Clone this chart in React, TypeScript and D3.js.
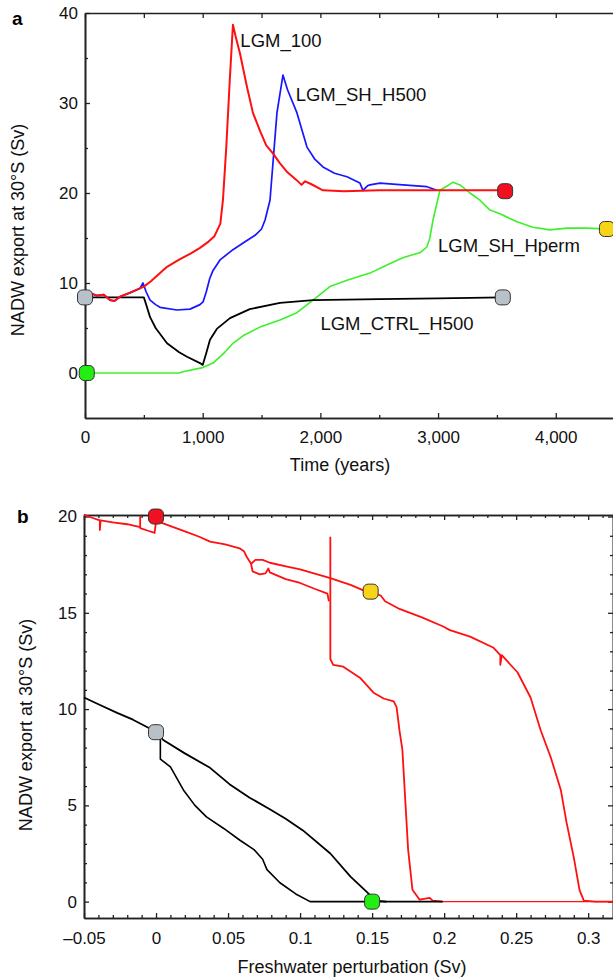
import React, { useEffect, useRef } from "react";
import * as d3 from "d3";

// ---- panel a: NADW export vs time (years, Sv) ----
const ctrlH500: [number, number][] = [
  [0, 8.4], [500, 8.4], [520, 7.6], [553, 6.2], [600, 5.0], [697, 3.3], [800, 2.3], [867, 1.8],
  [977, 1.1], [1000, 0.9], [1030, 2.2], [1062, 3.7], [1120, 4.9], [1232, 6.1], [1400, 7.1],
  [1657, 7.8], [1937, 8.1], [2500, 8.2], [3000, 8.3], [3550, 8.4],
];
const lgm100: [number, number][] = [
  [0, 8.7], [40, 8.9], [100, 8.6], [160, 8.7], [212, 8.1], [250, 8.0], [300, 8.5], [380, 8.9],
  [467, 9.4], [500, 9.6], [560, 10.2], [697, 11.8], [800, 12.6], [900, 13.3], [977, 13.9],
  [1050, 14.6], [1100, 15.2], [1150, 16.6], [1172, 19.2], [1200, 25], [1230, 32.5], [1257, 38.7],
  [1280, 37.4], [1317, 35.5], [1376, 31.8], [1427, 28.9], [1487, 26.9], [1540, 25.3], [1597, 24.4],
  [1657, 23.3], [1720, 22.3], [1801, 21.4], [1840, 20.9], [1870, 21.3], [1920, 21.0], [2022, 20.3],
  [2200, 20.2], [2500, 20.3], [3000, 20.3], [3570, 20.3],
];
const shH500: [number, number][] = [
  [0, 8.7], [40, 8.9], [100, 8.6], [160, 8.7], [212, 8.1], [250, 8.0], [300, 8.5], [380, 8.9],
  [467, 9.4], [493, 10.0], [520, 9.0], [553, 8.1],
  [600, 7.6], [637, 7.3], [780, 7.0], [892, 7.1], [977, 7.6], [1003, 7.9], [1030, 9.0], [1060, 10.5],
  [1088, 11.4], [1150, 12.6], [1257, 13.7], [1350, 14.5], [1445, 15.3], [1500, 16.0], [1530, 17.0],
  [1572, 19.2], [1631, 28.9], [1682, 33.1], [1720, 31.5], [1801, 28.9], [1886, 25.1], [1950, 23.8],
  [2022, 22.9], [2120, 22.2], [2226, 21.8], [2336, 21.1], [2362, 20.3], [2400, 20.8], [2421, 20.9],
  [2506, 21.1], [2700, 20.9], [2905, 20.7], [2990, 20.3],
];
const shHperm: [number, number][] = [
  [0, 0], [800, 0], [850, 0.2], [1000, 0.6], [1088, 1.1], [1180, 2.2], [1257, 3.3], [1350, 4.2],
  [1487, 5.1], [1657, 5.9], [1801, 6.7], [1937, 8.1], [2081, 9.6], [2226, 10.3], [2421, 11.1],
  [2566, 12.0], [2700, 12.8], [2850, 13.4], [2905, 14.0], [2930, 15.0], [2957, 17.0], [3016, 20.3],
  [3080, 20.8], [3127, 21.2], [3186, 20.9], [3271, 20.0], [3356, 19.2], [3441, 18.1], [3526, 17.7],
  [3670, 16.8], [3806, 16.2], [3951, 15.9], [4095, 16.1], [4265, 16.1], [4435, 16.0],
];
const markersA = [
  { t: 0, v: 8.4, fill: "#b8c0c8" },
  { t: 15, v: 0, fill: "#22ee11" },
  { t: 3570, v: 20.2, fill: "#f01020" },
  { t: 3550, v: 8.4, fill: "#b8c0c8" },
  { t: 4435, v: 16.0, fill: "#f7d417" },
];
const labelsA = [
  { text: "LGM_100", t: 1320, v: 36.2 },
  { text: "LGM_SH_H500", t: 1790, v: 30.2 },
  { text: "LGM_SH_Hperm", t: 3000, v: 13.5 },
  { text: "LGM_CTRL_H500", t: 2000, v: 4.8 },
];
const xTicksA = [0, 1000, 2000, 3000, 4000];
const xMinorA = [500, 1500, 2500, 3500, 4500];
const yTicksA = [0, 10, 20, 30, 40];
const yMinorA = [5, 15, 25, 35];

// ---- panel b: NADW export vs freshwater perturbation (Sv) ----
const blackUpperB: [number, number][] = [
  [-0.05, 10.6], [-0.04, 10.25], [-0.027, 9.8], [-0.016, 9.45], [-0.002, 8.9], [0.005, 8.4],
  [0.02, 7.7], [0.0375, 6.95], [0.051, 6.1], [0.065, 5.4], [0.079, 4.8], [0.09, 4.3], [0.102, 3.7],
  [0.121, 2.5], [0.135, 1.3], [0.147, 0.45], [0.152, 0.05], [0.16, 0], [0.199, 0],
];
const blackLowerB: [number, number][] = [
  [0.003, 8.8], [0.003, 7.4], [0.01, 7.0], [0.019, 5.8], [0.027, 5.0], [0.035, 4.4], [0.047, 3.8],
  [0.058, 3.2], [0.068, 2.7], [0.074, 2.2], [0.077, 1.66], [0.086, 0.98], [0.097, 0.4], [0.107, 0],
  [0.16, 0],
];
const redUpperB: [number, number][] = [
  [-0.05, 20.1], [-0.045, 19.95], [-0.039, 19.8], [-0.039, 19.3], [-0.0385, 19.8], [-0.03, 19.7],
  [-0.02, 19.6], [-0.011, 19.45], [-0.011, 20.0], [-0.011, 19.4], [-0.005, 19.25], [-0.001, 19.15],
  [0, 19.75], [0.003, 19.7], [0.012, 19.45], [0.021, 19.2], [0.03, 18.95], [0.0375, 18.7],
  [0.048, 18.55], [0.058, 18.35], [0.061, 18.2], [0.063, 17.9], [0.066, 17.55], [0.069, 17.75],
  [0.074, 17.75], [0.079, 17.6], [0.091, 17.4], [0.1, 17.25], [0.112, 17.0], [0.121, 16.8], [0.135, 16.45],
  [0.146, 16.1], [0.152, 16.0], [0.156, 15.9], [0.159, 15.6], [0.169, 15.2], [0.185, 14.75],
  [0.199, 14.3], [0.204, 14.1], [0.218, 13.76], [0.234, 13.2], [0.239, 12.8], [0.239, 12.3],
  [0.24, 12.8], [0.251, 11.9], [0.26, 10.6], [0.267, 8.9], [0.274, 7.5], [0.281, 5.8],
  [0.285, 4.1], [0.29, 2.3], [0.294, 0.6], [0.297, 0.05], [0.305, 0], [0.32, 0],
];
const redLoopB: [number, number][] = [
  [0.066, 17.55], [0.067, 17.15], [0.072, 17.0], [0.076, 17.05], [0.078, 17.3], [0.079, 17.1],
  [0.09, 16.75], [0.1, 16.55], [0.11, 16.25], [0.119, 16.0], [0.12, 15.6],
];
const redMidB: [number, number][] = [
  [0.121, 18.95], [0.121, 12.6], [0.123, 12.3], [0.13, 12.2], [0.136, 11.9], [0.142, 11.6],
  [0.151, 10.85], [0.158, 10.55], [0.165, 10.4], [0.167, 10.1], [0.169, 8.9], [0.171, 7.9],
  [0.173, 5.3], [0.175, 2.7], [0.178, 0.62], [0.183, 0.1], [0.19, 0.2], [0.192, 0.05], [0.199, 0],
];
const redZeroB: [number, number][] = [[0.199, 0], [0.32, 0]];
const markersB = [
  { f: 0, v: 20, fill: "#f01020" },
  { f: 0, v: 8.8, fill: "#b8c0c8" },
  { f: 0.149, v: 16.1, fill: "#f7d417" },
  { f: 0.15, v: 0, fill: "#22ee11" },
];
const xTicksB = [-0.05, 0, 0.05, 0.1, 0.15, 0.2, 0.25, 0.3];
const xTickLabelsB = ["\u20130.05", "0", "0.05", "0.1", "0.15", "0.2", "0.25", "0.3"];
const yTicksB = [0, 5, 10, 15, 20];

const FONT = "'Liberation Sans', Arial, Helvetica, sans-serif";
const RED = "#ff1010";
const BLUE = "#1616ff";
const GREEN = "#3cf02a";

const xA = d3.scaleLinear().domain([0, 4500]).range([85, 614.6]);
const yA = d3.scaleLinear().domain([-5, 40]).range([418, 13]);
const xB = d3.scaleLinear().domain([-0.05, 0.32]).range([84, 617]);
const yB = d3.scaleLinear().domain([-0.85, 20.08]).range([918, 515]);

const lineA = d3.line<[number, number]>().x((d) => xA(d[0])).y((d) => yA(d[1]));
const lineB = d3.line<[number, number]>().x((d) => xB(d[0])).y((d) => yB(d[1]));

function styleAxis(sel: d3.Selection<SVGGElement, unknown, null, undefined>) {
  sel.attr("font-family", FONT).attr("font-size", 17);
  sel.selectAll("path.domain").attr("stroke", "#222").attr("stroke-width", 1.6);
  sel.selectAll(".tick line").attr("stroke", "#222").attr("stroke-width", 1.3);
  sel.selectAll(".tick text").attr("fill", "#111");
}

export default function App() {
  const axesRef = useRef<SVGGElement>(null);

  useEffect(() => {
    const root = d3.select(axesRef.current!);
    root.selectAll("*").remove();
    const add = (tx: number, ty: number, axis: d3.Axis<number>) => {
      const g = root.append("g").attr("transform", `translate(${tx},${ty})`) as any;
      g.call(axis);
      styleAxis(g);
    };
    const none = () => "";
    // panel a
    add(0, 418, d3.axisBottom<number>(xA).tickValues(xMinorA).tickSize(-3).tickSizeOuter(0).tickFormat(none));
    add(0, 418, d3.axisBottom<number>(xA).tickValues(xTicksA).tickSize(-5).tickSizeOuter(0).tickPadding(13).tickFormat(d3.format(",")));
    add(0, 13, d3.axisTop<number>(xA).tickValues(xMinorA.concat(xTicksA)).tickSize(-5).tickSizeOuter(0).tickFormat(none));
    add(85, 0, d3.axisLeft<number>(yA).tickValues(yMinorA).tickSize(-3).tickSizeOuter(0).tickFormat(none));
    add(85, 0, d3.axisLeft<number>(yA).tickValues(yTicksA).tickSize(-5).tickSizeOuter(0).tickPadding(7).tickFormat(d3.format("d")));
    // panel b
    const minorB = d3.range(-5, 33).map((i) => i / 100).filter((v) => Math.round(v * 100) % 5 !== 0);
    const minorYB = d3.range(0, 21).filter((v) => v % 5 !== 0);
    add(0, 918, d3.axisBottom<number>(xB).tickValues(minorB).tickSize(-3).tickSizeOuter(0).tickFormat(none));
    add(0, 918, d3.axisBottom<number>(xB).tickValues(xTicksB).tickSize(-5).tickSizeOuter(0).tickPadding(14)
      .tickFormat((d) => xTickLabelsB[xTicksB.indexOf(d as number)] ?? ""));
    add(0, 515, d3.axisTop<number>(xB).tickValues(minorB).tickSize(-3).tickSizeOuter(0).tickFormat(none));
    add(0, 515, d3.axisTop<number>(xB).tickValues(xTicksB).tickSize(-5).tickSizeOuter(0).tickFormat(none));
    add(84, 0, d3.axisLeft<number>(yB).tickValues(minorYB).tickSize(-3).tickSizeOuter(0).tickFormat(none));
    add(84, 0, d3.axisLeft<number>(yB).tickValues(yTicksB).tickSize(-5).tickSizeOuter(0).tickPadding(7).tickFormat(d3.format("d")));
    add(613, 0, d3.axisRight<number>(yB).tickValues(minorYB).tickSize(-3).tickSizeOuter(0).tickFormat(none));
    add(613, 0, d3.axisRight<number>(yB).tickValues(yTicksB).tickSize(-5).tickSizeOuter(0).tickFormat(none));
  }, []);

  const marker = (cx: number, cy: number, fill: string, key: string) => (
    <rect key={key} x={cx - 7.5} y={cy - 7.5} width={15} height={15} rx={5} ry={5}
      fill={fill} stroke="#333" strokeWidth={1} />
  );

  return (
    <svg width={613} height={979} style={{ position: "absolute", left: 0, top: 0, background: "#fff" }}>
      <rect width={613} height={979} fill="#fff" />
      <g ref={axesRef} />
      {/* panel a */}
      <g fill="none" strokeLinejoin="round">
        <path d={lineA(shHperm)!} stroke={GREEN} strokeWidth={1.6} />
        <path d={lineA(ctrlH500)!} stroke="#000" strokeWidth={1.8} />
        <path d={lineA(shH500)!} stroke={BLUE} strokeWidth={1.7} />
        <path d={lineA(lgm100)!} stroke={RED} strokeWidth={2} />
      </g>
      {markersA.map((m, i) => marker(xA(m.t), yA(m.v), m.fill, "a" + i))}
      {labelsA.map((l) => (
        <text key={l.text} x={xA(l.t)} y={yA(l.v)} fontFamily={FONT} fontSize={18.5} fill="#111">{l.text}</text>
      ))}
      <text x={12} y={25} fontFamily={FONT} fontSize={19} fontWeight="bold">a</text>
      <text transform="translate(24,230) rotate(-90)" textAnchor="middle" fontFamily={FONT} fontSize={18} fill="#111">
        NADW export at 30°S (Sv)
      </text>
      <text x={340} y={471} textAnchor="middle" fontFamily={FONT} fontSize={18} fill="#111">Time (years)</text>

      {/* panel b */}
      <g fill="none" strokeLinejoin="round">
        <path d={lineB(redZeroB)!} stroke={RED} strokeWidth={1.1} />
        <path d={lineB(redUpperB)!} stroke={RED} strokeWidth={1.8} />
        <path d={lineB(redLoopB)!} stroke={RED} strokeWidth={1.8} />
        <path d={lineB(redMidB)!} stroke={RED} strokeWidth={1.8} />
        <path d={lineB(blackUpperB)!} stroke="#000" strokeWidth={1.8} />
        <path d={lineB(blackLowerB)!} stroke="#000" strokeWidth={1.6} />
      </g>
      {markersB.map((m, i) => marker(xB(m.f), yB(m.v), m.fill, "b" + i))}
      <text x={17} y={523} fontFamily={FONT} fontSize={19} fontWeight="bold">b</text>
      <text transform="translate(32,725) rotate(-90)" textAnchor="middle" fontFamily={FONT} fontSize={18} fill="#111">
        NADW export at 30°S (Sv)
      </text>
      <text x={352} y={973} textAnchor="middle" fontFamily={FONT} fontSize={18} fill="#111">Freshwater perturbation (Sv)</text>
    </svg>
  );
}
